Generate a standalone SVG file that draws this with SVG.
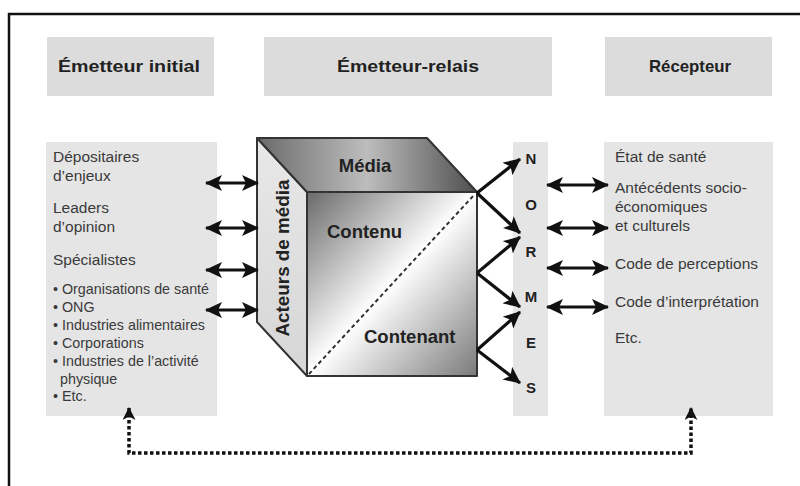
<svg xmlns="http://www.w3.org/2000/svg" width="800" height="486" viewBox="0 0 800 486">
<style>
.hdr{fill:#dcdcdc}
.pan{fill:#e5e5e5}
.ht{font-family:"Liberation Sans",Arial,sans-serif;font-weight:bold;font-size:17px;fill:#222;text-anchor:middle}
.t{font-family:"Liberation Sans",Arial,sans-serif;font-size:15.5px;fill:#3a3a3a}
.s{font-family:"Liberation Sans",Arial,sans-serif;font-size:14.3px;fill:#3a3a3a}
.b{font-family:"Liberation Sans",Arial,sans-serif;font-weight:bold;font-size:18.5px;fill:#222}
.n{font-family:"Liberation Sans",Arial,sans-serif;font-weight:bold;font-size:15px;fill:#222;text-anchor:middle}
.arr{stroke:#111;stroke-width:3.2;fill:none}
.edge{stroke:#333;stroke-width:2;stroke-linejoin:round}
</style>
<defs>
<marker id="ah" markerUnits="userSpaceOnUse" markerWidth="17" markerHeight="16" refX="16" refY="8" orient="auto-start-reverse">
<path d="M0,0 L17,8 L0,16 L4,8 z" fill="#111"/>
</marker>
<marker id="dh" markerUnits="userSpaceOnUse" markerWidth="13" markerHeight="13" refX="12" refY="6.5" orient="auto-start-reverse">
<path d="M0,0 L13,6.5 L0,13 L3.5,6.5 z" fill="#111"/>
</marker>
<linearGradient id="gTop" x1="0" y1="0" x2="1" y2="0">
<stop offset="0" stop-color="#6a6a6a"/>
<stop offset="0.5" stop-color="#bdbdbd"/>
<stop offset="1" stop-color="#4e4e4e"/>
</linearGradient>
<linearGradient id="gFront" x1="0" y1="0" x2="1" y2="1">
<stop offset="0" stop-color="#6a6a6a"/>
<stop offset="0.5" stop-color="#ffffff"/>
<stop offset="1" stop-color="#7a7a7a"/>
</linearGradient>
<linearGradient id="gLeft" x1="0" y1="0" x2="0" y2="1">
<stop offset="0" stop-color="#e8e8e8"/>
<stop offset="1" stop-color="#d6d6d6"/>
</linearGradient>
</defs>

<rect x="9" y="14" width="800" height="500" fill="none" stroke="#111" stroke-width="2.5"/>

<g id="header-emetteur-initial">
<rect class="hdr" x="47" y="37" width="167" height="59"/>
<text class="ht" x="129" y="72" textLength="142" lengthAdjust="spacingAndGlyphs">Émetteur initial</text>
</g>
<g id="header-emetteur-relais">
<rect class="hdr" x="264" y="37" width="288" height="59"/>
<text class="ht" x="408" y="72" textLength="142" lengthAdjust="spacingAndGlyphs">Émetteur-relais</text>
</g>
<g id="header-recepteur">
<rect class="hdr" x="605" y="37" width="167" height="59"/>
<text class="ht" x="690" y="72" textLength="82" lengthAdjust="spacingAndGlyphs">Récepteur</text>
</g>

<g id="panel-emetteur">
<rect class="pan" x="46" y="142" width="171" height="274"/>
<text class="t" x="53" y="162">Dépositaires</text>
<text class="t" x="53" y="181">d’enjeux</text>
<text class="t" x="53" y="213">Leaders</text>
<text class="t" x="53" y="232">d’opinion</text>
<text class="t" x="53" y="265">Spécialistes</text>
<text class="s" x="53" y="294">• Organisations de santé</text>
<text class="s" x="53" y="312">• ONG</text>
<text class="s" x="53" y="330">• Industries alimentaires</text>
<text class="s" x="53" y="348">• Corporations</text>
<text class="s" x="53" y="366">• Industries de l’activité</text>
<text class="s" x="60" y="384">physique</text>
<text class="s" x="53" y="401">• Etc.</text>
</g>

<g id="cube">
<polygon points="257,138 307,192 307,376 257,322" fill="url(#gLeft)" class="edge"/>
<polygon points="257,138 427,138 477,192 307,192" fill="url(#gTop)" class="edge"/>
<rect x="307" y="192" width="170" height="184" fill="url(#gFront)" class="edge"/>
<line x1="309" y1="374" x2="475" y2="194" stroke="#333" stroke-width="2" stroke-dasharray="4 3"/>
<text class="b" x="365" y="172" text-anchor="middle">Média</text>
<text class="b" x="327" y="238">Contenu</text>
<text class="b" x="364" y="343">Contenant</text>
<text class="b" x="0" y="0" text-anchor="middle" transform="translate(289 258) rotate(-90)" textLength="157" lengthAdjust="spacingAndGlyphs">Acteurs de média</text>
</g>

<g id="panel-normes">
<rect class="pan" x="513" y="142" width="35" height="274"/>
<text class="n" x="531" y="164">N</text>
<text class="n" x="531" y="210">O</text>
<text class="n" x="531" y="257">R</text>
<text class="n" x="531" y="302">M</text>
<text class="n" x="531" y="348">E</text>
<text class="n" x="531" y="393">S</text>
</g>

<g id="panel-recepteur">
<rect class="pan" x="604" y="142" width="169" height="274"/>
<text class="t" x="615" y="162">État de santé</text>
<text class="t" x="615" y="193">Antécédents socio-</text>
<text class="t" x="615" y="212">économiques</text>
<text class="t" x="615" y="231">et culturels</text>
<text class="t" x="615" y="269">Code de perceptions</text>
<text class="t" x="615" y="307">Code d’interprétation</text>
<text class="t" x="615" y="343">Etc.</text>
</g>

<g id="connectors">
<line class="arr" x1="206" y1="183" x2="258" y2="183" marker-start="url(#ah)" marker-end="url(#ah)"/>
<line class="arr" x1="206" y1="228" x2="258" y2="228" marker-start="url(#ah)" marker-end="url(#ah)"/>
<line class="arr" x1="206" y1="270" x2="258" y2="270" marker-start="url(#ah)" marker-end="url(#ah)"/>
<line class="arr" x1="206" y1="310" x2="258" y2="310" marker-start="url(#ah)" marker-end="url(#ah)"/>

<line class="arr" x1="477" y1="193" x2="520" y2="159" marker-end="url(#ah)"/>
<line class="arr" x1="477" y1="193" x2="520" y2="233" marker-end="url(#ah)"/>
<line class="arr" x1="477" y1="273" x2="520" y2="237" marker-end="url(#ah)"/>
<line class="arr" x1="477" y1="273" x2="520" y2="307" marker-end="url(#ah)"/>
<line class="arr" x1="477" y1="350" x2="520" y2="312" marker-end="url(#ah)"/>
<line class="arr" x1="477" y1="350" x2="520" y2="383" marker-end="url(#ah)"/>

<line class="arr" x1="547" y1="185" x2="608" y2="185" marker-start="url(#ah)" marker-end="url(#ah)"/>
<line class="arr" x1="547" y1="228" x2="608" y2="228" marker-start="url(#ah)" marker-end="url(#ah)"/>
<line class="arr" x1="547" y1="268" x2="608" y2="268" marker-start="url(#ah)" marker-end="url(#ah)"/>
<line class="arr" x1="547" y1="307" x2="608" y2="307" marker-start="url(#ah)" marker-end="url(#ah)"/>

<path d="M129,408 V453 H691 V408" fill="none" stroke="#111" stroke-width="3.5" stroke-dasharray="3.5 2.5" marker-start="url(#dh)" marker-end="url(#dh)"/>
</g>
</svg>
